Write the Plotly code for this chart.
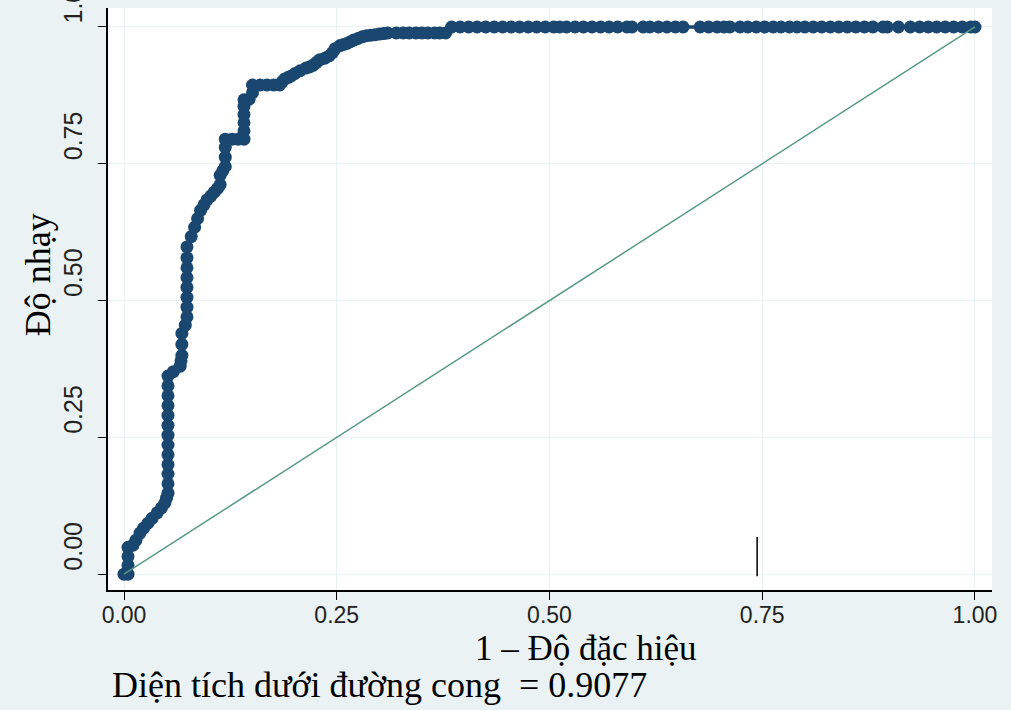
import plotly.graph_objects as go

# ROC curve (1 - specificity, sensitivity): rising part
rise_points = [
    (0.0, 0.0), (0.0047, 0.0), (0.0047, 0.016), (0.0047, 0.032), (0.0047, 0.049),
    (0.0106, 0.053), (0.014, 0.062), (0.0188, 0.075), (0.023, 0.084), (0.028, 0.093),
    (0.033, 0.102), (0.039, 0.112), (0.044, 0.121), (0.048, 0.130), (0.050, 0.139),
    (0.0517, 0.148), (0.0517, 0.165), (0.0517, 0.183), (0.0517, 0.200), (0.0517, 0.218),
    (0.0517, 0.236), (0.0517, 0.254), (0.0517, 0.272), (0.0517, 0.290), (0.0517, 0.308),
    (0.0517, 0.326), (0.0517, 0.344), (0.0517, 0.362), (0.058, 0.370), (0.066, 0.380),
    (0.067, 0.390), (0.068, 0.400), (0.068, 0.420), (0.068, 0.440), (0.072, 0.455),
    (0.074, 0.470), (0.074, 0.488), (0.074, 0.506), (0.074, 0.524), (0.074, 0.542),
    (0.074, 0.560), (0.074, 0.578), (0.074, 0.598), (0.079, 0.617), (0.083, 0.634),
    (0.0865, 0.650), (0.090, 0.665), (0.094, 0.675), (0.0975, 0.684), (0.102, 0.691),
    (0.106, 0.698), (0.110, 0.705), (0.113, 0.712), (0.113, 0.729), (0.116, 0.737),
    (0.119, 0.745), (0.119, 0.762), (0.119, 0.780), (0.119, 0.795), (0.127, 0.795),
    (0.134, 0.795), (0.141, 0.795), (0.141, 0.810), (0.141, 0.825), (0.141, 0.840),
    (0.141, 0.855), (0.141, 0.867), (0.147, 0.868), (0.151, 0.880), (0.151, 0.894),
    (0.160, 0.894), (0.168, 0.894), (0.176, 0.894), (0.183, 0.894), (0.186, 0.900),
    (0.189, 0.905), (0.193, 0.908), (0.196, 0.910), (0.201, 0.915), (0.207, 0.920),
    (0.214, 0.925), (0.218, 0.927), (0.222, 0.930), (0.226, 0.935), (0.230, 0.940),
    (0.236, 0.943), (0.241, 0.947), (0.245, 0.953), (0.248, 0.960), (0.254, 0.966),
    (0.258, 0.968), (0.262, 0.970), (0.266, 0.973), (0.270, 0.976), (0.275, 0.979),
    (0.280, 0.982), (0.285, 0.984), (0.290, 0.985), (0.295, 0.986), (0.300, 0.987),
    (0.305, 0.988), (0.310, 0.989), (0.320, 0.989), (0.328, 0.989), (0.335, 0.989),
    (0.343, 0.989), (0.350, 0.989), (0.357, 0.989), (0.365, 0.989), (0.371, 0.989),
    (0.378, 0.989),
]

# ROC curve: flat top part at sensitivity 1
top_points = [
    (0.385, 1.0), (0.395, 1.0), (0.405, 1.0), (0.415, 1.0), (0.425, 1.0),
    (0.435, 1.0), (0.445, 1.0), (0.455, 1.0), (0.465, 1.0), (0.475, 1.0),
    (0.485, 1.0), (0.495, 1.0), (0.505, 1.0), (0.512, 1.0), (0.520, 1.0),
    (0.530, 1.0), (0.540, 1.0), (0.550, 1.0), (0.560, 1.0), (0.570, 1.0),
    (0.580, 1.0), (0.591, 1.0), (0.597, 1.0), (0.610, 1.0), (0.618, 1.0),
    (0.628, 1.0), (0.638, 1.0), (0.648, 1.0), (0.657, 1.0), (0.677, 1.0),
    (0.687, 1.0), (0.697, 1.0), (0.705, 1.0), (0.712, 1.0), (0.724, 1.0),
    (0.733, 1.0), (0.743, 1.0), (0.753, 1.0), (0.763, 1.0), (0.772, 1.0),
    (0.782, 1.0), (0.791, 1.0), (0.800, 1.0), (0.810, 1.0), (0.820, 1.0),
    (0.830, 1.0), (0.840, 1.0), (0.850, 1.0), (0.860, 1.0), (0.870, 1.0),
    (0.880, 1.0), (0.892, 1.0), (0.897, 1.0), (0.910, 1.0), (0.924, 1.0),
    (0.935, 1.0), (0.945, 1.0), (0.955, 1.0), (0.965, 1.0), (0.975, 1.0),
    (0.985, 1.0), (0.995, 1.0), (1.0, 1.0),
]

# reference diagonal
diag_x = [0.0, 1.0]
diag_y = [0.0, 1.0]

# stray vertical mark in the picture
mark_x = [0.744, 0.744]
mark_y = [-0.004, 0.068]

tick_vals = [0.0, 0.25, 0.5, 0.75, 1.0]
tick_text = ["0.00", "0.25", "0.50", "0.75", "1.00"]

x_title = "1 – Độ đặc hiệu"
y_title = "Độ nhạy"
auc_text = "Diện tích dưới đường cong  = 0.9077"

roc = rise_points + top_points
roc_fpr = [p[0] for p in roc]
roc_tpr = [p[1] for p in roc]

NAVY = "#1a476f"
GREEN = "#5a9a85"
BG = "#eaf2f3"
SERIF = "Liberation Serif, Times New Roman, serif"
SANS = "Liberation Sans, Arial, sans-serif"

fig = go.Figure()
fig.add_trace(go.Scatter(
    x=roc_fpr, y=roc_tpr, mode="lines+markers",
    line=dict(color=NAVY, width=3.5),
    marker=dict(color=NAVY, size=13, line=dict(width=0)),
    showlegend=False, hoverinfo="skip",
))
fig.add_trace(go.Scatter(
    x=diag_x, y=diag_y, mode="lines",
    line=dict(color=GREEN, width=1.5),
    showlegend=False, hoverinfo="skip",
))
fig.add_trace(go.Scatter(
    x=mark_x, y=mark_y, mode="lines",
    line=dict(color="black", width=1.5),
    showlegend=False, hoverinfo="skip",
))

# y tick labels as rotated texts sitting just above each tick (as in the picture)
ytick_labels = [
    dict(text=t, xref="paper", yref="y", x=0, y=v, xanchor="center",
         yanchor="bottom", xshift=-35, yshift=1, textangle=-90, showarrow=False,
         font=dict(family=SANS, size=25, color="#222"))
    for v, t in zip(tick_vals, tick_text)
]

fig.update_layout(
    width=1011, height=710,
    paper_bgcolor=BG, plot_bgcolor="white",
    margin=dict(l=108, r=19, t=8, b=120, autoexpand=False),
    xaxis=dict(
        range=[-0.0188, 1.02], tickvals=tick_vals, ticktext=tick_text,
        showgrid=True, gridcolor=BG, gridwidth=1.2, zeroline=False,
        showline=True, linecolor="black", linewidth=1.5,
        ticks="outside", ticklen=8, tickwidth=1.3, tickcolor="black",
        ticklabelstandoff=-4, automargin=False,
        tickfont=dict(family=SANS, size=23, color="#222"),
    ),
    yaxis=dict(
        range=[-0.029, 1.0347], tickvals=tick_vals, showticklabels=False,
        showgrid=True, gridcolor=BG, gridwidth=1.2, zeroline=False,
        showline=True, linecolor="black", linewidth=1.5,
        ticks="outside", ticklen=8, tickwidth=1.3, tickcolor="black",
        automargin=False,
    ),
    annotations=ytick_labels + [
        dict(text=x_title, xref="paper", yref="paper", x=0.541, y=0,
             xanchor="center", yanchor="middle", yshift=-58, showarrow=False,
             font=dict(family=SERIF, size=35, color="black")),
        dict(text=y_title, xref="paper", yref="paper", x=0, y=0.541,
             xanchor="center", yanchor="middle", xshift=-70, textangle=-90,
             showarrow=False, font=dict(family=SERIF, size=36, color="black")),
        dict(text=auc_text, xref="paper", yref="paper", x=0, y=0,
             xanchor="left", yanchor="middle", xshift=2, yshift=-95,
             showarrow=False, font=dict(family=SERIF, size=36, color="black")),
    ],
)

fig.write_html(
    "out.html",
    config={"displayModeBar": False},
    post_script="document.body.style.margin='0px';"
                "document.body.style.background='#eaf2f3';",
)
